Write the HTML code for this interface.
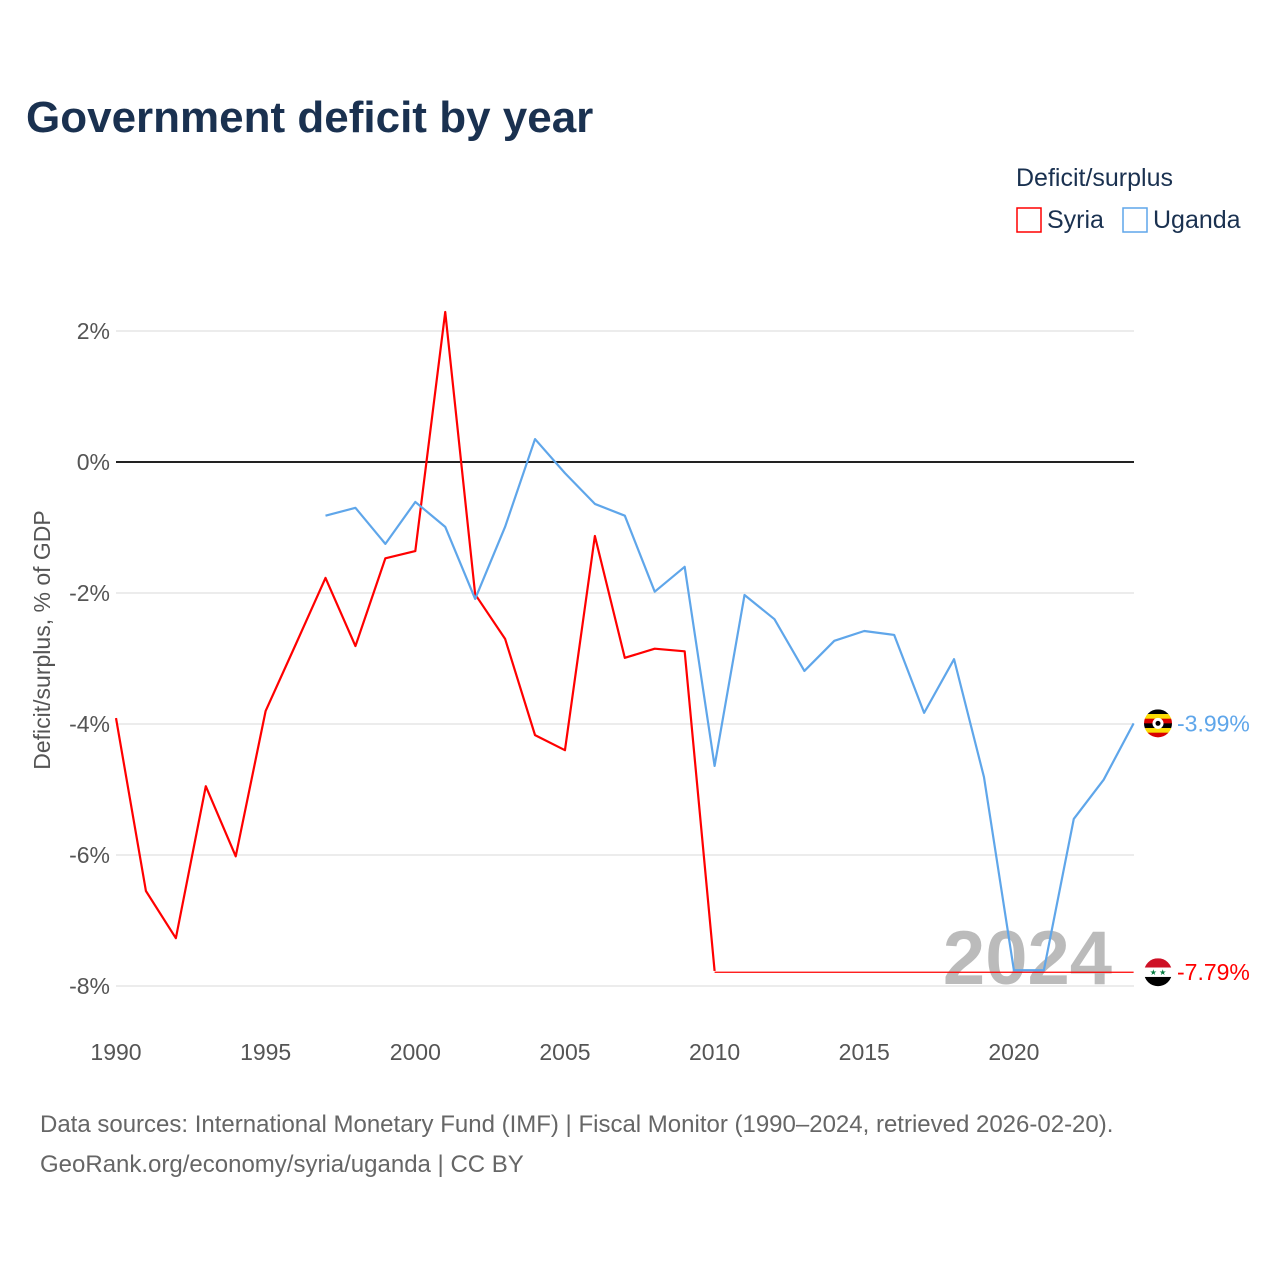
<!DOCTYPE html>
<html><head><meta charset="utf-8">
<style>
html,body{margin:0;padding:0;background:#fff;width:1280px;height:1280px;overflow:hidden;font-family:"Liberation Sans",sans-serif;}
</style></head>
<body>
<svg id="chart" width="1280" height="1280" viewBox="0 0 1280 1280" xmlns="http://www.w3.org/2000/svg">
<text x="26" y="132" font-size="44" font-weight="bold" fill="#1a3150">Government deficit by year</text>
<text x="1016" y="186" font-size="25" fill="#1a3150">Deficit/surplus</text>
<g><rect x="1017" y="208" width="24" height="24" fill="none" stroke="#ff0000" stroke-width="1.5"/><text x="1047" y="228" font-size="25" fill="#1a3150">Syria</text></g>
<g><rect x="1123" y="208" width="24" height="24" fill="none" stroke="#5fa6ea" stroke-width="1.5"/><text x="1153" y="228" font-size="25" fill="#1a3150">Uganda</text></g>
<text transform="translate(50,640) rotate(-90)" text-anchor="middle" font-size="23" fill="#555">Deficit/surplus, % of GDP</text>
<text x="1112" y="984" text-anchor="end" font-size="76" font-weight="bold" fill="#bbb">2024</text>
<g id="grid"></g><g id="series"></g>
<text x="40" y="1132" font-size="24" fill="#666">Data sources: International Monetary Fund (IMF) | Fiscal Monitor (1990–2024, retrieved 2026-02-20).</text>
<text x="40" y="1172" font-size="24" fill="#666">GeoRank.org/economy/syria/uganda | CC BY</text>
</svg>
<script>
const yTicks=[2,0,-2,-4,-6,-8];
const xTicks=[1990,1995,2000,2005,2010,2015,2020];
const syriaYears=[1990,1991,1992,1993,1994,1995,1996,1997,1998,1999,2000,2001,2002,2003,2004,2005,2006,2007,2008,2009,2010];
const syriaVals=[-3.91,-6.55,-7.27,-4.95,-6.02,-3.80,-2.79,-1.77,-2.81,-1.47,-1.36,2.29,-2.02,-2.70,-4.17,-4.40,-1.13,-2.99,-2.85,-2.89,-7.77];
const syriaFlatYears=[2010,2024];
const syriaFlatVals=[-7.79,-7.79];
const ugandaYears=[1997,1998,1999,2000,2001,2002,2003,2004,2005,2006,2007,2008,2009,2010,2011,2012,2013,2014,2015,2016,2017,2018,2019,2020,2021,2022,2023,2024];
const ugandaVals=[-0.82,-0.70,-1.25,-0.61,-0.99,-2.09,-0.99,0.35,-0.17,-0.64,-0.82,-1.98,-1.60,-4.64,-2.03,-2.40,-3.19,-2.73,-2.58,-2.64,-3.83,-3.01,-4.81,-7.76,-7.76,-5.45,-4.85,-3.99];
const NS="http://www.w3.org/2000/svg";
const X=y=>116+(y-1990)*29.93;
const Y=v=>462-v*65.5;
const grid=document.getElementById('grid'),ser=document.getElementById('series');
function mk(tag,attrs,parent){const e=document.createElementNS(NS,tag);for(const k in attrs)e.setAttribute(k,attrs[k]);parent.appendChild(e);return e;}
yTicks.forEach(v=>{
  const l=mk('line',{x1:116,x2:1134,y1:Y(v),y2:Y(v),stroke:v===0?'#222':'#e6e6e6','stroke-width':v===0?2:1.5},grid);
  
  
  const t=mk('text',{x:110,y:Y(v)+8,'text-anchor':'end','font-size':23,fill:'#555'},grid);
  t.textContent=v+'%';
  
  
});
xTicks.forEach(y=>{
  const t=mk('text',{x:X(y),y:1060,'text-anchor':'middle','font-size':23,fill:'#555'},grid);
  t.textContent=y;
  
  
});
function line(xs,vs,color,w,name){
  const p=mk('polyline',{points:xs.map((y,i)=>X(y)+','+Y(vs[i])).join(' '),fill:'none',stroke:color,'stroke-width':w,'stroke-linejoin':'round'},ser);
  
  
}
line(syriaFlatYears,syriaFlatVals,'#ff0000',1.2,'syria-line-extrapolated');
line(syriaYears,syriaVals,'#ff0000',2.2,'syria-line');
line(ugandaYears,ugandaVals,'#5fa6ea',2.2,'uganda-line');
const defs=mk('defs',{},ser);
function endLabel(v,color,flag,name){
  const g=mk('g',{},ser);
  
  
  const cy=Y(v),cx=1158;
  const cp=mk('clipPath',{id:'clip-'+flag},defs);
  mk('circle',{cx:cx,cy:cy,r:14},cp);
  const f=mk('g',{'clip-path':'url(#clip-'+flag+')'},g);
  if(flag==='ug'){
    ['#000','#fcdc04','#d90000','#000','#fcdc04','#d90000'].forEach((c,i)=>mk('rect',{x:cx-14,y:cy-14+i*28/6,width:28,height:28/6+0.5,fill:c},f));
    mk('circle',{cx:cx,cy:cy,r:5.5,fill:'#fff'},f);
    mk('circle',{cx:cx,cy:cy,r:2.5,fill:'#000'},f);
  }else{
    mk('rect',{x:cx-14,y:cy-14,width:28,height:9.4,fill:'#ce1126'},f);
    mk('rect',{x:cx-14,y:cy-4.7,width:28,height:9.4,fill:'#fff'},f);
    mk('rect',{x:cx-14,y:cy+4.7,width:28,height:9.4,fill:'#000'},f);
    const s=mk('text',{x:cx,y:cy+3,'text-anchor':'middle','font-size':8,fill:'#007a3d'},f);
    s.textContent='★ ★';
  }
  const t=mk('text',{x:1177,y:cy+8,'font-size':23,fill:color},g);
  t.textContent=v.toFixed(2)+'%';
}
endLabel(ugandaVals[ugandaVals.length-1],'#5fa6ea','ug','uganda-end-label');
endLabel(syriaFlatVals[syriaFlatVals.length-1],'#ff0000','sy','syria-end-label');
</script>
</body></html>
